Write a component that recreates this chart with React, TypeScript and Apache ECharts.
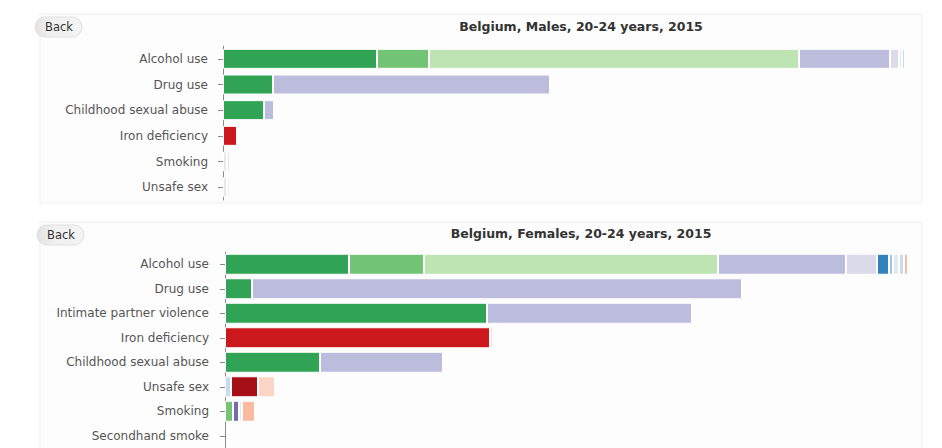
import React, { useEffect, useRef } from "react";
import * as echarts from "echarts";

// ---------- data ----------
const titleMales = "Belgium, Males, 20-24 years, 2015";
const titleFemales = "Belgium, Females, 20-24 years, 2015";

const catsMales = ["Alcohol use", "Drug use", "Childhood sexual abuse", "Iron deficiency", "Smoking", "Unsafe sex"];
const catsFemales = [
  "Alcohol use",
  "Drug use",
  "Intimate partner violence",
  "Iron deficiency",
  "Childhood sexual abuse",
  "Unsafe sex",
  "Smoking",
  "Secondhand smoke",
];

// causes (stack order, left to right)
const causes = [
  "Self-harm",
  "Interpersonal violence",
  "Transport injuries",
  "Substance use disorders",
  "Mental disorders",
  "Neurological disorders",
  "Cardiovascular diseases",
  "Digestive diseases",
  "Other non-communicable",
  "Chronic respiratory diseases",
  "Nutritional deficiencies",
  "HIV/AIDS & STIs",
  "Neoplasms",
  "Other infectious",
];

// values per cause, one entry per category (Males)
const malesSelfHarm = [154, 50, 41, 0, 0, 0];
const malesViolence = [52, 0, 0, 0, 0, 0];
const malesTransport = [370, 0, 0, 0, 0, 0];
const malesSubstance = [91, 277, 10, 0, 0, 0];
const malesMental = [9, 0, 0, 0, 0, 0];
const malesNeuro = [0, 0, 0, 0, 0, 0];
const malesCardio = [0, 0, 0, 0, 0, 0];
const malesDigestive = [0, 0, 0, 0, 0, 0];
const malesOtherNcd = [3, 0, 0, 0, 4, 4];
const malesRespiratory = [3, 0, 0, 0, 0, 0];
const malesNutrition = [0, 0, 0, 14, 0, 0];
const malesHiv = [0, 0, 0, 0, 0, 0];
const malesNeoplasms = [0, 0, 0, 0, 2.5, 0];
const malesOtherInf = [0, 0, 0, 0, 0, 2.5];

// values per cause, one entry per category (Females)
const femalesSelfHarm = [124, 27, 262, 0, 95, 0, 0, 0];
const femalesViolence = [75, 0, 0, 0, 0, 0, 8, 0];
const femalesTransport = [294, 0, 0, 0, 0, 0, 0, 0];
const femalesSubstance = [128, 490, 205, 0, 123, 0, 0, 0];
const femalesMental = [31, 0, 0, 0, 0, 0, 0, 0];
const femalesNeuro = [0, 0, 0, 0, 0, 0, 6, 0];
const femalesCardio = [12, 0, 0, 0, 0, 0, 0, 0];
const femalesDigestive = [4, 0, 0, 0, 0, 0, 0, 0];
const femalesOtherNcd = [6, 0, 0, 0, 0, 0, 3, 0];
const femalesRespiratory = [5, 0, 0, 0, 0, 6, 0, 0];
const femalesNutrition = [0, 0, 0, 265, 0, 0, 0, 0];
const femalesHiv = [0, 0, 0, 0, 0, 27, 0, 0];
const femalesNeoplasms = [4, 0, 0, 2.5, 0, 0, 13, 0];
const femalesOtherInf = [0, 0, 0, 0, 0, 17, 0, 0];

const malesValues = [
  malesSelfHarm, malesViolence, malesTransport, malesSubstance, malesMental, malesNeuro, malesCardio,
  malesDigestive, malesOtherNcd, malesRespiratory, malesNutrition, malesHiv, malesNeoplasms, malesOtherInf,
];
const femalesValues = [
  femalesSelfHarm, femalesViolence, femalesTransport, femalesSubstance, femalesMental, femalesNeuro, femalesCardio,
  femalesDigestive, femalesOtherNcd, femalesRespiratory, femalesNutrition, femalesHiv, femalesNeoplasms, femalesOtherInf,
];

const axisMax = 700;

// ---------- styles ----------
const causeColors = [
  "#31a354",
  "#74c476",
  "#bde4b2",
  "#bcbddc",
  "#dadaeb",
  "#756bb1",
  "#3182bd",
  "#9ecae1",
  "#e4e8f0",
  "#c6dbef",
  "#cb181d",
  "#a50f15",
  "#fcbba1",
  "#fdd5c6",
];

const FONT = "'DejaVu Sans', Verdana, sans-serif";

function buildSeries(values: number[][], idx: number, barWidth: number) {
  const out: any[] = [];
  values.forEach((vals, i) => {
    if (vals.every((v) => v === 0)) return;
    out.push({
      type: "bar",
      name: causes[i],
      stack: "s" + idx,
      xAxisIndex: idx,
      yAxisIndex: idx,
      barWidth,
      silent: true,
      data: vals.map((v) => (v === 0 ? "-" : v)),
      itemStyle: { color: causeColors[i], borderColor: "#ffffff", borderWidth: 1 },
    });
  });
  return out;
}

function yAxisCfg(cats: string[], gridIndex: number, offset: number) {
  return {
    type: "category",
    gridIndex,
    data: cats,
    inverse: true,
    offset,
    axisLine: { show: true, lineStyle: { color: "#8a8a8a", width: 1 } },
    axisTick: { show: true, alignWithLabel: true, length: 5, lineStyle: { color: "#8a8a8a" } },
    axisLabel: { margin: 11, color: "#555", fontSize: 12, fontFamily: FONT },
  };
}

function backButton(x: number, y: number) {
  return [
    {
      type: "rect",
      z: 1,
      shape: { x, y, width: 47, height: 20, r: 10 },
      style: {
        fill: new echarts.graphic.LinearGradient(0, 0, 1, 0, [
          { offset: 0, color: "#e2e2e2" },
          { offset: 0.3, color: "#efefef" },
          { offset: 1, color: "#f4f4f4" },
        ]),
        stroke: "#e0e0e0",
        lineWidth: 1,
      },
    },
    {
      type: "text",
      z: 2,
      x: x + 24,
      y: y + 10,
      style: { text: "Back", fill: "#333", fontSize: 11.5, fontFamily: FONT, align: "center", verticalAlign: "middle" },
    },
  ];
}

export default function App() {
  const ref = useRef<HTMLDivElement>(null);
  useEffect(() => {
    if (!ref.current) return;
    const chart = echarts.init(ref.current, undefined, { renderer: "svg" });
    chart.setOption({
      animation: false,
      backgroundColor: "#ffffff",
      grid: [
        { left: 223, top: 46, width: 700, height: 154 },
        { left: 225, top: 252, width: 700, height: 204 },
      ],
      xAxis: [
        { type: "value", gridIndex: 0, min: 0, max: axisMax, show: false },
        { type: "value", gridIndex: 1, min: 0, max: axisMax, show: false },
      ],
      yAxis: [yAxisCfg(catsMales, 0, 4), yAxisCfg(catsFemales, 1, 5)],
      graphic: [
        {
          type: "rect",
          z: 0,
          shape: { x: 40, y: 14, width: 882, height: 189 },
          style: { fill: "#fdfdfd", stroke: "#efefef", lineWidth: 1 },
        },
        {
          type: "rect",
          z: 0,
          shape: { x: 40, y: 222, width: 882, height: 240 },
          style: { fill: "#fdfdfd", stroke: "#efefef", lineWidth: 1 },
        },
        ...backButton(35, 17),
        ...backButton(37, 225),
        {
          type: "text",
          z: 2,
          x: 581,
          y: 26,
          style: {
            text: titleMales,
            fill: "#333",
            fontSize: 12.5,
            fontWeight: "bold",
            fontFamily: FONT,
            align: "center",
            verticalAlign: "middle",
          },
        },
        {
          type: "text",
          z: 2,
          x: 581,
          y: 233,
          style: {
            text: titleFemales,
            fill: "#333",
            fontSize: 12.5,
            fontWeight: "bold",
            fontFamily: FONT,
            align: "center",
            verticalAlign: "middle",
          },
        },
      ],
      series: [...buildSeries(malesValues, 0, 20), ...buildSeries(femalesValues, 1, 21)],
    });
    return () => chart.dispose();
  }, []);
  return <div ref={ref} style={{ position: "absolute", left: 0, top: 0, width: 942, height: 448 }} />;
}
